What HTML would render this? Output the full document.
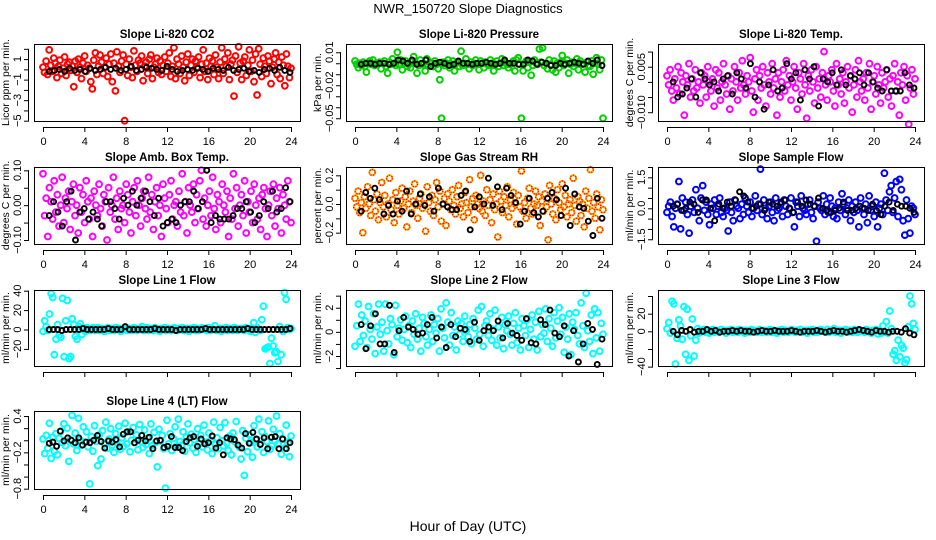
<!DOCTYPE html>
<html><head><meta charset="utf-8"><style>
body{margin:0;background:#fff}
svg{display:block;font-family:"Liberation Sans",sans-serif}
</style></head><body>
<svg id="c" width="936" height="540">
<text x="468" y="13" text-anchor="middle" font-size="13">NWR_150720  Slope Diagnostics</text>
<text x="468" y="531" text-anchor="middle" font-size="14">Hour of Day (UTC)</text>
</svg>
<script>
const hourTicks=[0,4,8,12,16,20,24];
const co2Color=[.2,-.3,.8,-.5,1.9,.4,-.2,1.1,.6,-.8,.3,.9,-.4,.1,1.2,-.6,.5,.7,-.1,.3,-1.7,.8,-.3,1.0,.2,-.9,.6,1.3,-.2,.4,.1,-1.2,-1.9,.9,1.6,-.5,.3,1.4,.7,-.4,.2,1.1,-.7,.5,1.5,-1.2,.6,-2.1,1.7,.3,-.3,.8,1.4,-5,.5,-.6,1.0,.2,-.8,1.8,.4,-.2,.9,.6,1.3,-1.1,.3,.7,-.4,1.0,1.4,-.9,.2,.5,1.1,-.3,.8,-.5,.4,1.2,-.2,.6,1.6,-.7,.3,2.1,-.9,1.0,.5,-.4,1.3,.2,-1.1,.7,1.5,-.6,.4,1.0,-.3,.8,.2,1.2,-.8,.5,1.9,-.2,.6,-1.0,1.1,.3,.8,-.5,1.4,.2,-.9,.7,2.1,-.4,1.0,.3,1.6,-1.0,.5,.9,-2.6,1.3,-.3,2.2,.6,-1.0,.8,1.2,-.6,.4,1.9,-.2,.9,-1.2,1.5,-2.5,2.0,.5,-.7,1.1,.3,-.4,1.3,.8,-1.4,.2,1.0,1.6,-.5,.7,-.9,1.2,.4,-1.6,1.5,.3,-.8,.1];
const co2Black=[-.2,-.1,0,-.2,.1,-.1,0,-.2,.1,-.1,0,.2,0,.1,-.1,0,.3,-.1,0,.2,.1,0,-.1,.3,0,-.2,-.1,0,-.1,.1,0,-.2,.1,0,-.1,.2,-.1,0,.1,-.2,-.1,-.3,0,.1,-.1,.2,-.1,-.3];
const co2Ticks=[-5,-4,-3,-2,-1,0,1,2];
const co2Labels=[-5,-3,-1,1];
const presColor=[2,-1,-4,0,-2,1,-3,-8,0,2,-1,3,-2,0,-1,1,-5,0,2,-3,-9,1,-1,4,0,-2,10,-1,3,-6,0,2,-3,-1,-4,1,6,0,-9,-2,3,-1,0,-7,4,-2,1,0,-3,2,-1,-5,-15,-50,1,-2,0,3,-4,-1,2,-7,0,1,-3,11,-2,0,4,-1,-5,1,-2,0,3,-1,-6,2,0,-4,1,-1,-2,3,0,-7,-1,2,-3,0,4,-2,1,-1,-4,-1,0,2,-7,3,5,-1,-50,-7,0,2,-4,1,-11,-2,3,0,-1,13,1,14,-2,0,-5,3,-1,-6,2,-8,0,-4,1,7,-2,0,3,-9,-1,1,-3,0,4,-6,2,-1,0,-8,1,-2,-3,2,-10,0,5,-1,-6,3,-50];
const presBlack=[-1,0,0,-1,0,0,-1,0,3,2,0,3,-1,0,3,-3,0,1,0,-2,-1,2,0,0,-1,0,0,1,0,-1,0,3,0,0,-1,-1,3,2,-1,1,0,-2,-2,0,-1,0,1,0,-1,2,0,3,-2];
const presTicks=[-50,-40,-30,-20,-10,0,10];
const presLabels=[-50,-20,10];
const tempColor=[2,-1,4,-3,-6,1,-2,5,-4,3,0,-11,2,-1,6,-5,1,-3,4,-2,0,-7,3,-1,2,-5,5,0,-3,1,-8,4,-2,3,-6,0,6,-1,-4,2,-9,1,-3,5,0,-6,3,-2,7,-1,-4,2,0,8,-3,-10,1,4,-6,2,-2,5,-1,-8,3,0,-4,6,-2,1,-11,3,-5,0,4,-3,7,-1,2,-6,0,5,-2,-9,3,1,-4,6,-1,-12,2,-3,4,0,-7,5,-2,1,-5,3,10,-1,-6,2,0,4,-3,-8,6,-1,1,-4,3,-7,0,5,-2,2,-10,-1,4,-5,7,0,-3,1,-6,3,-2,6,-9,0,2,-4,5,-1,-7,3,-2,0,4,-5,1,-8,2,6,-3,0,-11,3,-1,5,-6,2,-14,-2,4,-4,1];
const tempBlack=[0,-5,-4,-2,1,-5,3,1,-1,0,-3,1,2,-4,3,1,-2,6,-5,0,-9,-1,4,-3,-2,6,1,3,-6,4,1,5,-8,1,0,3,-1,4,-1,2,1,3,-1,3,0,-2,-3,4,-3,-3,-3,3,-1,-2];
const tempTicks=[-10,-5,0,5,10];
const tempLabels=[-10,5];
const boxColor=[9,-3,2,-9,5,1,-4,7,-2,3,-6,0,8,-5,2,-1,4,-7,1,6,-3,0,-8,5,-2,3,-5,7,1,-4,2,-9,4,0,-3,6,-1,-6,3,1,-10,5,-2,0,8,-4,2,-7,4,-1,0,-5,6,3,-2,-8,1,5,-3,7,0,-6,2,4,-1,-4,8,-2,3,-7,1,5,-3,0,-9,6,2,-1,-5,3,7,-4,0,1,-6,4,-2,9,-3,1,-8,5,0,-2,6,-5,3,-1,7,10,-4,2,-6,0,4,-3,8,-1,-7,3,1,-5,6,0,-2,4,-9,2,-4,9,-1,5,-6,0,3,-3,7,-8,1,-2,4,-5,6,0,-4,2,-7,3,5,-1,-9,0,4,-3,6,-6,2,-1,5,-8,3,0,-4,7,1,-5];
const boxBlack=[-3,1,-2,-6,1,4,-10,-2,-1,-4,-2,-4,-6,1,1,-1,-4,2,0,4,0,2,4,1,-3,2,-6,-5,-4,-5,0,1,1,4,-1,1,10,-5,-3,-4,-4,-4,-3,-1,-1,1,-2,-5,-3,1,-1,4,-2,-1,5,1];
const boxTicks=[-10,-5,0,5,10];
const boxLabels=[-10,0,10];
const rhColor=[4,-2,9,-6,1,-20,5,-3,12,0,-8,22,3,-5,7,-11,1,15,-2,6,-9,0,18,-4,3,-13,8,-1,-7,2,11,-3,5,-16,0,9,-6,2,14,-1,-10,4,7,-3,0,-19,12,1,-5,6,-8,3,15,-2,9,-12,0,4,-15,7,2,-4,10,-1,-7,5,13,-3,0,-9,8,1,-6,17,-2,4,-11,6,0,-3,20,-5,2,-8,10,-1,3,-13,7,-4,0,-23,9,2,-6,5,-1,12,-9,3,-3,8,0,-14,6,-2,23,-5,1,-10,4,11,-3,-7,0,9,-1,5,-15,2,-5,7,-2,-25,13,0,-7,4,-11,10,1,-4,14,-2,6,-9,0,3,-6,18,-1,-12,5,2,-8,0,-16,9,-3,4,24,-5,1,-10,7,-2,-18,3,-4];
const rhBlack=[-5,8,4,11,3,-7,-1,-7,2,-5,9,-7,0,7,-1,5,-5,11,0,-2,-4,-4,6,9,-18,-2,5,0,18,-1,12,-4,11,6,1,-14,-5,4,-6,-9,-5,4,8,3,-8,11,-15,7,-2,-3,-12,-22,4,-10];
const rhTicks=[-20,-10,0,10,20];
const rhLabels=[-20,0,20];
const flowColor=[-2,1,3,-4,-9,0,2,13,-10,5,-1,3,-3,-12,1,4,-2,9,0,-6,5,11,-1,3,-3,-8,2,0,4,-3,1,5,-2,-4,0,-1,-11,3,-2,-6,4,1,0,-5,2,-3,5,1,-2,3,-4,0,6,-1,2,19,-3,4,0,-5,1,3,-2,-6,5,-1,0,2,-4,4,1,-3,0,5,-2,-9,3,1,-4,6,0,-1,-3,2,4,-2,-5,1,-16,3,0,-1,6,-3,2,-2,5,1,-4,0,-5,3,-1,7,2,-3,0,4,-6,1,-2,3,-1,-9,5,0,-3,2,-7,6,-1,1,-4,3,-9,0,2,-3,17,4,-1,8,11,-2,5,13,-4,14,9,-6,-13,4,-5,-12,1,0,-3];
const flowBlack=[1,2,-1,0,3,2,-2,4,4,0,-6,2,0,3,1,4,8,6,3,0,1,2,-1,3,2,1,3,4,0,-2,3,1,4,2,1,5,0,-1,-2,-1,0,3,-1,-1,0,1,0,-1,2,-1,-3,1,3,-1,2,1,1,0,-2];
const flowTicks=[-15,-10,-5,0,5,10,15,20];
const flowLabels=[-15,0,15];
const line1Color=[-2,9,3,-1,16,37,33,-26,-10,5,-6,-8,32,-28,9,30,-30,-28,11,5,-7,-10,3,6,-5,1,-2,2,0,-1,1,2,-1,0,2,-1,1,0,-2,1,2,-1,0,1,-1,2,0,1,-2,1,0,2,-1,1,0,-1,2,1,-1,0,1,3,-1,0,2,-1,1,0,-1,2,1,0,-2,1,0,2,-1,1,0,-1,1,2,0,-1,1,0,2,-1,0,1,-2,1,0,2,-1,1,-1,0,2,1,0,-1,2,-1,1,0,4,-1,0,1,-2,1,0,2,-1,1,0,-1,2,1,-1,0,1,0,-1,2,1,0,-2,1,7,-3,2,0,-1,10,24,-20,-19,-18,-35,-9,-17,-24,-23,-33,3,-26,-2,38,31,2,0,1];
const line1Black=[0,0,0,-1,0,0,0,0,1,0,0,0,0,0,1,0,0,0,3,0,0,0,0,0,0,1,0,0,0,0,-1,0,0,0,0,0,0,1,0,0,0,0,0,0,0,0,0,1,0,0,0,0,0,0,0,0,0,1];
const line1Ticks=[-20,0,20,40];
const line1Labels=[-20,0,20,40];
const line2Color=[-1.2,.5,2.3,-.8,1.4,-.3,.9,-1.3,2.1,.2,-.6,1.5,-1.8,.4,2.3,-.2,.8,-1.6,2.3,.1,-1.0,1.1,.6,-1.9,2.2,-.4,.3,1.0,-.7,.2,1.3,-.9,.5,-1.3,.9,-.2,1.5,-.6,.3,-1.6,1.2,.7,-.4,-1.1,.2,1.4,-.8,.6,-.1,1.1,-1.6,1.9,.3,-.5,2.4,.8,-1.1,1.6,-.3,.4,-1.5,.9,-.2,.7,-.8,1.3,.1,-.4,.6,-1.0,1.1,.3,-.6,1.8,-.2,2.1,-1.2,.5,.9,-.3,1.5,-.7,.2,1.8,-1.1,.4,-.5,1.2,-1.4,.6,.1,1.3,-.2,-1.1,.7,1.6,-.9,.3,-1.5,1.1,.5,-.3,1.0,-1.3,.2,1.4,-.6,.8,-1.5,1.7,-.4,.6,-.1,1.9,-.8,1.1,.3,-1.2,1.6,-.5,.9,2.0,-.2,1.2,-1.7,.4,-.6,1.5,-1.9,.8,.2,1.6,-.3,-1.0,2.4,.5,-1.3,3.2,.1,-.8,1.4,-1.8,1.9,-.5,1.6,-1.6,.7,-.2];
const line2Black=[.6,-1.4,.5,1.5,-1.0,-1.0,2.2,-1.7,.1,1.2,.4,.2,-.2,-.1,.6,1.2,-.5,.4,-1.3,.6,-.4,.3,.2,-.8,.8,-.7,.1,.4,.1,.9,-.5,.7,-.1,-.3,-.7,1.1,-.9,-1.0,1.0,.6,1.8,-.1,-.4,.5,-2.0,.1,-2.5,-1.0,.7,.2,-2.7,-.6];
const line2Ticks=[-3,-2,-1,0,1,2,3];
const line2Labels=[-2,0,2];
const line3Color=[3,10,-2,34,31,-37,-8,13,6,-9,28,-26,25,-33,-5,14,-28,-10,3,-2,1,0,2,-1,1,-2,0,2,-1,1,0,-1,2,0,1,-2,1,0,2,-1,0,1,-1,2,0,1,-2,1,0,-1,2,1,0,-1,1,2,-1,0,1,-1,0,2,-1,1,0,-2,1,0,2,-1,1,0,-1,1,2,0,-1,1,0,2,-1,0,1,-2,1,0,2,-1,1,-1,0,2,1,0,-1,2,-1,1,0,3,-1,0,1,-2,1,0,2,-1,1,0,-1,2,1,-1,0,1,0,-1,2,1,0,-2,1,0,2,-3,1,-2,6,-1,11,-2,23,3,-26,-22,-33,-10,-29,-16,-19,-36,-32,5,40,31,9,2];
const line3Black=[0,-4,1,0,2,-1,0,0,2,0,1,-1,0,0,1,0,1,0,0,-1,0,1,0,0,1,0,0,0,1,0,-1,0,0,0,1,0,-1,0,1,0,0,-1,0,1,2,1,0,-1,1,0,0,-1,0,0,-1,3,-2,-4];
const line3Ticks=[-40,-20,0,20,40];
const line3Labels=[-40,0,20];
const line4Color=[2,-22,8,-13,28,-30,5,-18,11,-24,3,15,-4,27,-9,20,-35,1,41,-6,12,-17,36,0,-8,22,-3,14,-11,-72,6,-18,24,-2,-42,9,-31,16,-5,30,-13,2,19,-8,-20,11,-1,23,-15,4,-10,28,-6,14,-19,0,21,-4,9,-16,26,-2,-12,17,-7,3,-22,27,-9,13,-3,-44,18,-1,8,-14,-79,33,-6,11,-17,3,22,-10,35,-2,-8,14,-18,5,27,-4,10,-13,1,-20,19,-6,8,-11,25,-3,-16,12,0,-22,30,-7,4,-14,21,-1,-9,29,-5,-17,7,-24,12,-2,31,-8,-12,-31,16,-58,3,-19,9,-4,-28,24,1,-11,35,-6,14,-20,6,-2,32,-15,-9,18,-1,40,-6,11,-23,2,-13,25,-4,-27,7];
const line4Black=[-5,-3,-10,15,-1,4,0,-4,4,-8,-3,-4,0,8,-2,-13,-1,-3,1,-11,10,14,14,-4,0,8,-1,5,-14,-1,0,-12,-10,6,-12,-12,-17,-2,4,6,-10,2,-6,-4,7,-13,-4,-24,4,2,1,-8,-13,11,-5,13,2,-7,4,-14,5,6,-14,2,-14,-4];
const line4Ticks=[-80,-60,-40,-20,0,20,40];
const line4Labels=[-80,-20,40];

const NS='http://www.w3.org/2000/svg';
const svg=document.getElementById('c');
function mk(tag,attrs,parent){const e=document.createElementNS(NS,tag);for(const k in attrs)e.setAttribute(k,attrs[k]);(parent||svg).appendChild(e);return e;}
const colLeft=[34,346,658], rowTop=[44,167,290,411], rowH=[77,77,76,78], W=266;
const panels=[
 {key:'co2',t:'Slope Li-820 CO2',yl:'Licor ppm per min.',c:'#ff0000',lo:-5.03,hi:2.47,cv:co2Color,bv:co2Black,tk:co2Ticks,lb:co2Labels,col:0,row:0,xl:true,fmt:v=>String(v)},
 {key:'pressure',t:'Slope Li-820 Pressure',yl:'kPa per min.',c:'#00d000',lo:-52.5,hi:17.5,cv:presColor,bv:presBlack,tk:presTicks,lb:presLabels,col:1,row:0,xl:true,fmt:v=>(v/1000).toFixed(2)},
 {key:'li820-temp',t:'Slope Li-820 Temp.',yl:'degrees C per min.',c:'#ff00ff',lo:-12.9,hi:12.5,cv:tempColor,bv:tempBlack,tk:tempTicks,lb:tempLabels,col:2,row:0,xl:true,fmt:v=>(v/1000).toFixed(3)},
 {key:'amb-box-temp',t:'Slope Amb. Box Temp.',yl:'degrees C per min.',c:'#ff00ff',lo:-11.15,hi:10.95,cv:boxColor,bv:boxBlack,tk:boxTicks,lb:boxLabels,col:0,row:1,xl:true,fmt:v=>(v/100).toFixed(2)},
 {key:'gas-rh',t:'Slope Gas Stream RH',yl:'percent per min.',c:'#ffa500',dot:'#ff0000',lo:-27.9,hi:25.8,cv:rhColor,bv:rhBlack,tk:rhTicks,lb:rhLabels,col:1,row:1,xl:true,fmt:v=>(v/100).toFixed(1)},
 {key:'sample-flow',t:'Slope Sample Flow',yl:'ml/min per min.',c:'#0000ff',lo:-17.3,hi:20,cv:flowColor,bv:flowBlack,tk:flowTicks,lb:flowLabels,col:2,row:1,xl:true,fmt:v=>(v/10).toFixed(1)},
 {key:'line1-flow',t:'Slope Line 1 Flow',yl:'ml/min per min.',c:'#00ffff',lo:-37.6,hi:40.7,cv:line1Color,bv:line1Black,tk:line1Ticks,lb:line1Labels,col:0,row:2,xl:false,fmt:v=>String(v)},
 {key:'line2-flow',t:'Slope Line 2 Flow',yl:'ml/min per min.',c:'#00ffff',lo:-2.83,hi:3.47,cv:line2Color,bv:line2Black,tk:line2Ticks,lb:line2Labels,col:1,row:2,xl:false,fmt:v=>String(v)},
 {key:'line3-flow',t:'Slope Line 3 Flow',yl:'ml/min per min.',c:'#00ffff',lo:-39.3,hi:46.8,cv:line3Color,bv:line3Black,tk:line3Ticks,lb:line3Labels,col:2,row:2,xl:false,fmt:v=>String(v)},
 {key:'line4-flow',t:'Slope Line 4 (LT) Flow',yl:'ml/min per min.',c:'#00ffff',lo:-80.5,hi:48.3,cv:line4Color,bv:line4Black,tk:line4Ticks,lb:line4Labels,col:0,row:3,xl:true,fmt:v=>(v/100).toFixed(1)}
];
panels.forEach(p=>{
 const L=colLeft[p.col], T=rowTop[p.row], H=rowH[p.row], B=T+H;
 const g=mk('g',{});
 
 
 const xs=h=>L+9+h/24*248;
 const ys=v=>B-(v-p.lo)/(p.hi-p.lo)*H;
 const t=mk('text',{x:L+W/2,y:T-6,'text-anchor':'middle','font-size':11.5,'font-weight':'bold'},g);
 t.textContent=p.t;
 
 
 const pts=mk('g',{fill:'none'},g);
 
 
 const n=p.cv.length;
 p.cv.forEach((v,i)=>{
  const cx=xs(i*24/(n-1)), cy=ys(v);
  const c=mk('circle',{cx:cx.toFixed(1),cy:cy.toFixed(1),r:2.9,stroke:p.c,'stroke-width':2},pts);
  
  
  if(p.dot){const d=mk('circle',{cx:cx.toFixed(1),cy:cy.toFixed(1),r:2.9,stroke:p.dot,'stroke-width':1.4,'stroke-dasharray':'1 1.6'},pts);
   
   }
 });
 const m=p.bv.length;
 p.bv.forEach((v,i)=>{
  const c=mk('circle',{cx:xs(0.6+i*23.3/(m-1)).toFixed(1),cy:ys(v).toFixed(1),r:2.5,stroke:'#000','stroke-width':1.9},pts);
  
  
 });
 const box=mk('rect',{x:L+.5,y:T+.5,width:W,height:H,fill:'none',stroke:'#000','stroke-width':1},g);
 
 
 const ax=mk('g',{stroke:'#000','stroke-width':1},g);
 
 
 mk('line',{x1:xs(0),x2:xs(24),y1:B+6.5,y2:B+6.5},ax);
 hourTicks.forEach(h=>{
  mk('line',{x1:xs(h)+.5,x2:xs(h)+.5,y1:B+6,y2:B+11},ax);
  if(p.xl){const tx=mk('text',{x:xs(h)+.5,y:B+24,'text-anchor':'middle','font-size':11,stroke:'none'},g);
   tx.textContent=h;
   
   }
 });
 mk('line',{x1:L-5.5,x2:L-5.5,y1:ys(p.tk[0]),y2:ys(p.tk[p.tk.length-1])},ax);
 p.tk.forEach(v=>mk('line',{x1:L-10,x2:L-5,y1:ys(v)+.5,y2:ys(v)+.5},ax));
 p.lb.forEach(v=>{
  const y=ys(v), tx=mk('text',{x:L-13,y:y,'text-anchor':'middle','font-size':11,transform:`rotate(-90 ${L-13} ${y})`},g);
  tx.textContent=p.fmt(v).replace('-','\u2212');
  
  
 });
 const yl=mk('text',{x:L-25,y:T+H/2,'text-anchor':'middle','font-size':10.5,transform:`rotate(-90 ${L-25} ${T+H/2})`},g);
 yl.textContent=p.yl;
 
 
});
</script>
</body></html>
